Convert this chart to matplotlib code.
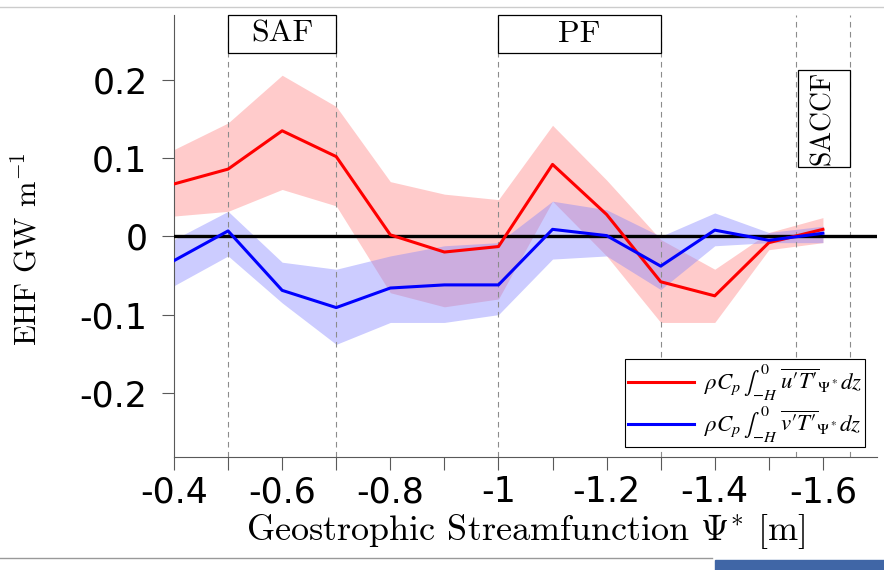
import numpy as np
import matplotlib
matplotlib.use("Agg")
import matplotlib.pyplot as plt
from matplotlib.patches import Rectangle
from matplotlib.lines import Line2D

plt.rcParams['mathtext.fontset'] = 'cm'
plt.rcParams['axes.unicode_minus'] = False

# streamfunction bins [m]
psi = [-0.4, -0.5, -0.6, -0.7, -0.8, -0.9, -1.0, -1.1, -1.2, -1.3, -1.4, -1.5, -1.6]

# along-stream (u'T') EHF and its spread
ehf_u = [0.067, 0.086, 0.135, 0.102, 0.002, -0.020, -0.013, 0.092, 0.028, -0.058, -0.076, -0.008, 0.009]
ehf_u_hi = [0.111, 0.145, 0.206, 0.166, 0.070, 0.054, 0.047, 0.142, 0.072, -0.004, -0.042, 0.005, 0.024]
ehf_u_lo = [0.026, 0.032, 0.060, 0.039, -0.072, -0.090, -0.080, 0.045, -0.025, -0.110, -0.110, -0.017, -0.008]

# cross-stream (v'T') EHF and its spread
ehf_v = [-0.031, 0.007, -0.069, -0.091, -0.066, -0.062, -0.062, 0.009, 0.001, -0.038, 0.008, -0.005, 0.004]
ehf_v_hi = [-0.004, 0.032, -0.033, -0.042, -0.025, -0.012, -0.008, 0.045, 0.034, 0.000, 0.030, 0.005, 0.013]
ehf_v_lo = [-0.063, -0.025, -0.085, -0.138, -0.110, -0.110, -0.100, -0.029, -0.025, -0.068, -0.012, -0.008, -0.008]

# fronts: (name, northern edge, southern edge)
fronts = [("SAF", -0.5, -0.7), ("PF", -1.0, -1.3), ("SACCF", -1.55, -1.65)]

fig = plt.figure(figsize=(8.84, 5.70), dpi=100)
ax = fig.add_axes([174/884, 1 - 457/570, (877 - 174)/884, (457 - 15)/570])

ax.fill_between(psi, ehf_u_lo, ehf_u_hi, color=(1.0, 0.55, 0.55), alpha=0.45, lw=0, zorder=1)
ax.fill_between(psi, ehf_v_lo, ehf_v_hi, color=(0.5, 0.5, 1.0), alpha=0.40, lw=0, zorder=1)
ax.axhline(0, color='k', lw=2.4, zorder=3)
ax.plot(psi, ehf_u, color=(1, 0, 0), lw=2.2, zorder=4,
        label=r"$\rho C_p\,\int_{-H}^{0}\ \overline{u\prime T\prime}_{\Psi^*} dz$")
ax.plot(psi, ehf_v, color=(0, 0, 1), lw=2.2, zorder=4,
        label=r"$\rho C_p\,\int_{-H}^{0}\ \overline{v\prime T\prime}_{\Psi^*} dz$")

ax.set_xlim(-0.4, -1.7)
ax.set_ylim(-0.282, 0.283)

# front lines and labels
for name, x0, x1 in fronts:
    for xx in (x0, x1):
        ax.axvline(xx, color=(0.55, 0.55, 0.55), lw=0.8, ls=(0, (5, 4)), zorder=2)
for name, x0, x1 in fronts[:2]:
    ax.add_patch(Rectangle((x0, 0.234), x1 - x0, 0.049, facecolor='white', edgecolor='k',
                           lw=0.9, zorder=5, clip_on=False))
    ax.text((x0 + x1) / 2, 0.2585, name, ha='center', va='center', fontsize=23,
            family='cmr10', zorder=6)
name, x0, x1 = fronts[2]
ax.add_patch(Rectangle((x0 - 0.003, 0.089), x1 - x0 + 0.003, 0.124, facecolor='white', edgecolor='k',
                       lw=0.9, zorder=5))
ax.text((x0 + x1) / 2, 0.151, name, ha='center', va='center', rotation=90, fontsize=20,
        family='cmr10', zorder=6)

ax.set_xticks(psi)
ax.set_xticklabels([("%g" % p if i % 2 == 0 else "") for i, p in enumerate(psi)])
ax.set_yticks([-0.2, -0.1, 0, 0.1, 0.2])
ax.set_yticklabels(["-0.2", "-0.1", "0", "0.1", "0.2"])
ax.tick_params(axis='both', direction='out', length=9, width=0.8, color=(0.35, 0.35, 0.35),
               labelsize=25)
ax.tick_params(axis='y', pad=10)
ax.tick_params(axis='x', pad=4)

for s in ('top', 'right'):
    ax.spines[s].set_visible(False)
for s in ('left', 'bottom'):
    ax.spines[s].set_color((0.35, 0.35, 0.35))
    ax.spines[s].set_linewidth(0.8)

ax.set_xlabel(r"Geostrophic Streamfunction $\Psi^{*}$ [m]", family='cmr10', fontsize=26, labelpad=2)
ax.set_ylabel(r"EHF GW m$^{-1}$", family='cmr10', fontsize=22)
ax.yaxis.set_label_coords(-0.187, 0.47)

leg = ax.legend(loc='lower right', bbox_to_anchor=(862/877, 0.022),
                prop={'size': 16.5, 'family': 'STIXGeneral', 'math_fontfamily': 'stix'},
                frameon=True, fancybox=False, framealpha=1, edgecolor='k',
                handlelength=2.9, borderpad=0.12, labelspacing=0.0, borderaxespad=0,
                handletextpad=0.4)
leg.get_frame().set_linewidth(0.8)
leg.set_zorder(7)

# screenshot edges
fig.add_artist(Line2D([0, 1], [1 - 7/570, 1 - 7/570], color=(0.8, 0.8, 0.8), lw=1))
fig.add_artist(Line2D([0, 712/884], [1 - 558/570, 1 - 558/570], color=(0.6, 0.6, 0.6), lw=1))
fig.add_artist(Rectangle((715/884, 0), 1 - 715/884, 1 - 560/570, color=(0.25, 0.4, 0.65),
                         transform=fig.transFigure))

fig.savefig("out.png", dpi=100)
